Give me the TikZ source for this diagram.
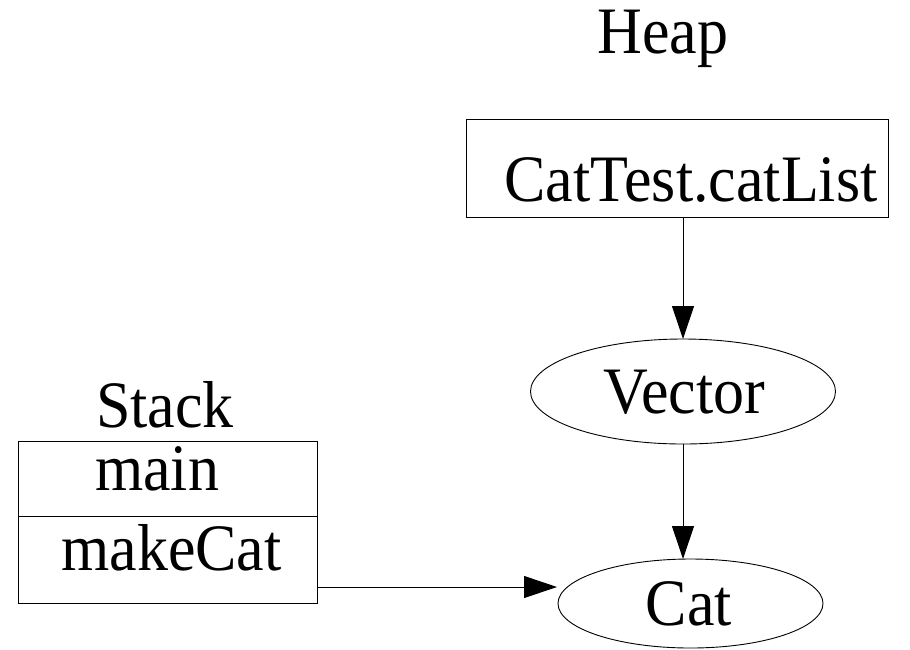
\documentclass[tikz,border=0pt]{standalone}
\usepackage{graphicx}
\usepackage{fontspec}
\setmainfont{Liberation Serif}
\usetikzlibrary{arrows.meta,shapes.geometric}
% labels are set slightly taller than the font's natural proportions
\newcommand{\tallword}[1]{\scalebox{1}[1.07]{#1}}
\begin{document}
\begin{tikzpicture}[x=1pt,y=-1pt,
  every node/.style={font=\fontsize{62}{74}\selectfont, inner sep=0pt, outer sep=0pt},
  lbl/.style={anchor=base},
  boxstyle/.style={draw, line width=1pt, rectangle},
  ellstyle/.style={draw, line width=0.9pt, ellipse},
  link/.style={line width=1pt, -{Triangle[length=33pt,width=22pt]}}]
  \useasboundingbox (0,0) rectangle (910,649);

  % heap side
  \node[lbl] (heaplbl) at (663,53) {\tallword{Heap}};
  \node[boxstyle, minimum width=422pt, minimum height=98pt] (catlist) at (677,168) {};
  \node[lbl] (catlisttxt) at (691,201) {\tallword{CatTest.catList}};

  \node[ellstyle, minimum width=305pt, minimum height=105pt] (vector) at (683,391.5) {};
  \node[lbl] (vectortxt) at (684,413) {\tallword{Vector}};

  \node[ellstyle, minimum width=265pt, minimum height=89pt] (cat) at (690.5,603.5) {};
  \node[lbl] (cattxt) at (689,625) {\tallword{Cat}};

  % stack side
  \node[lbl] (stacklbl) at (165,427) {\tallword{Stack}};
  \node[boxstyle, minimum width=299pt, minimum height=162pt] (stackbox) at (167.5,522) {};
  \draw[line width=1pt] (stackbox.west |- 0,516) -- (stackbox.east |- 0,516);
  \node[lbl] (maintxt) at (157,490) {\tallword{main}};
  \node[lbl] (makecattxt) at (171.5,570) {\tallword{makeCat}};

  % references
  \coordinate (catin) at (557,587);
  \draw[link] (vector.north |- catlist.south) -- (vector.north);
  \draw[link] (vector.south) -- (vector.south |- cat.north);
  \draw[link] (stackbox.east |- catin) -- (catin);
\end{tikzpicture}
\end{document}
